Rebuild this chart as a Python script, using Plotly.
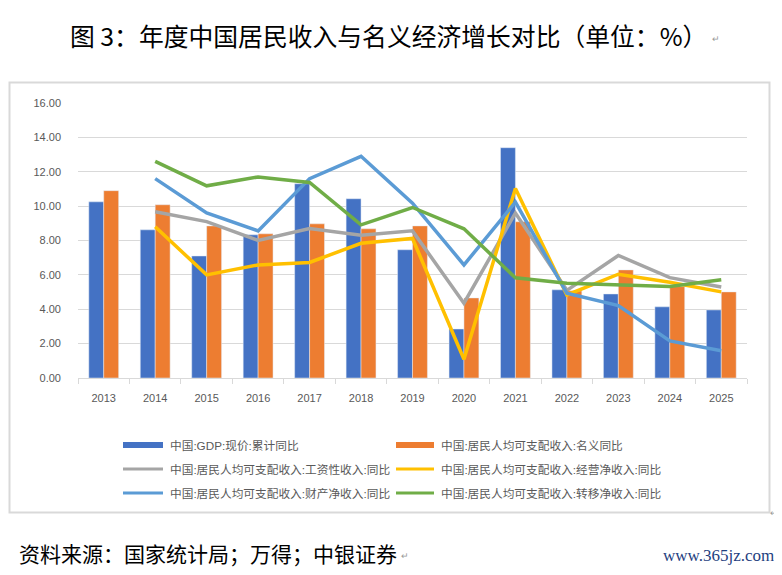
import plotly.graph_objects as go

years = ["2013", "2014", "2015", "2016", "2017", "2018", "2019",
         "2020", "2021", "2022", "2023", "2024", "2025"]
gdp = [10.25, 8.62, 7.10, 8.33, 11.30, 10.43, 7.46, 2.85, 13.40, 5.13, 4.89, 4.14, 3.96]
income_nominal = [10.90, 10.08, 8.85, 8.39, 8.97, 8.68, 8.85, 4.66, 9.09, 5.07, 6.29, 5.32, 5.01]
wage = [None, 9.67, 9.10, 8.00, 8.70, 8.30, 8.56, 4.35, 9.60, 5.10, 7.13, 5.84, 5.30]
business = [None, 8.80, 6.00, 6.58, 6.72, 7.84, 8.12, 1.09, 11.03, 4.83, 6.04, 5.57, 5.01]
property_inc = [None, 11.60, 9.60, 8.56, 11.60, 12.90, 10.17, 6.58, 10.23, 4.93, 4.21, 2.16, 1.59]
transfer = [None, 12.60, 11.18, 11.70, 11.38, 8.91, 9.92, 8.68, 5.83, 5.51, 5.44, 5.32, 5.71]

names = ["中国:GDP:现价:累计同比",
         "中国:居民人均可支配收入:名义同比",
         "中国:居民人均可支配收入:工资性收入:同比",
         "中国:居民人均可支配收入:经营净收入:同比",
         "中国:居民人均可支配收入:财产净收入:同比",
         "中国:居民人均可支配收入:转移净收入:同比"]
colors = ["#4472C4", "#ED7D31", "#A5A5A5", "#FFC000", "#5B9BD5", "#70AD47"]

W, H = 782, 575
OFF = 8  # page body margin offset
# plot area in page pixels
PL, PR, PT, PB = 78, 747, 103, 378
ML, MT = PL - OFF, PT - OFF
MR, MB = W - (PR - OFF), H - (PB - OFF)
PW, PH = PR - PL, PB - PT


def px(xp):
    return (xp - PL) / PW


def py(yp):
    return (PB - yp) / PH


fig = go.Figure()
fig.add_trace(go.Bar(x=years, y=gdp, name=names[0], marker_color=colors[0]))
fig.add_trace(go.Bar(x=years, y=income_nominal, name=names[1], marker_color=colors[1]))
for vals, nm, c in [(wage, names[2], colors[2]), (business, names[3], colors[3]),
                    (property_inc, names[4], colors[4]), (transfer, names[5], colors[5])]:
    fig.add_trace(go.Scatter(x=years, y=vals, name=nm, mode="lines",
                             line=dict(color=c, width=3.5)))

shapes = []
annotations = []
# outer frame
shapes.append(dict(type="rect", xref="paper", yref="paper",
                   x0=px(9.5), x1=px(769.5), y0=py(512.5), y1=py(82.5),
                   line=dict(color="#D9D9D9", width=2), layer="below"))

# manual legend
rows = [445, 469, 493]
cols = [(123, 163, 168), (396, 434, 439)]
for i, (nm, c) in enumerate(zip(names, colors)):
    r, cidx = divmod(i, 2)
    x0, x1, xt = cols[cidx]
    yy = rows[r]
    if i < 2:
        shapes.append(dict(type="rect", xref="paper", yref="paper",
                           x0=px(x0), x1=px(x1), y0=py(yy + 3), y1=py(yy - 3),
                           fillcolor=c, line=dict(width=0)))
    else:
        shapes.append(dict(type="line", xref="paper", yref="paper",
                           x0=px(x0), x1=px(x1), y0=py(yy), y1=py(yy),
                           line=dict(color=c, width=3)))
    annotations.append(dict(xref="paper", yref="paper", x=px(xt), y=py(yy),
                            xanchor="left", yanchor="middle", showarrow=False,
                            text=nm, font=dict(size=11.7, color="#595959")))

# title
annotations.append(dict(xref="paper", yref="paper", x=px(388), y=py(35),
                        xanchor="center", yanchor="middle", showarrow=False,
                        text="图 3：年度中国居民收入与名义经济增长对比（单位：%）",
                        font=dict(size=24.8, color="#000000", family="Noto Sans CJK SC")))
annotations.append(dict(xref="paper", yref="paper", x=px(716), y=py(39),
                        xanchor="center", yanchor="middle", showarrow=False,
                        text="↵", font=dict(size=9, color="#999999")))
# source
annotations.append(dict(xref="paper", yref="paper", x=px(17), y=py(553),
                        xanchor="left", yanchor="middle", showarrow=False,
                        text="资料来源：国家统计局；万得；中银证券",
                        font=dict(size=21, color="#000000", family="Noto Sans CJK SC")))
annotations.append(dict(xref="paper", yref="paper", x=px(405), y=py(556),
                        xanchor="center", yanchor="middle", showarrow=False,
                        text="↵", font=dict(size=9, color="#999999")))
annotations.append(dict(xref="paper", yref="paper", x=px(774), y=py(513),
                        xanchor="center", yanchor="middle", showarrow=False,
                        text="↵", font=dict(size=9, color="#999999")))
# watermark
annotations.append(dict(xref="paper", yref="paper", x=px(776), y=py(555),
                        xanchor="right", yanchor="middle", showarrow=False,
                        text="www.365jz.com",
                        font=dict(size=17, color="#1F3F7F", family="Liberation Serif")))

fig.update_layout(
    width=W, height=H,
    margin=dict(l=ML, r=MR, t=MT, b=MB, autoexpand=False),
    paper_bgcolor="white", plot_bgcolor="white",
    barmode="group", bargap=0.42, bargroupgap=0,
    showlegend=False,
    font=dict(family="Liberation Sans, Noto Sans CJK SC", size=11, color="#595959"),
    shapes=shapes, annotations=annotations,
    xaxis=dict(type="category", showgrid=False, showline=True, linecolor="#D9D9D9",
               linewidth=1, ticks="outside", tickson="boundaries", ticklen=5,
               tickcolor="#D9D9D9", tickfont=dict(size=11, color="#595959"),
               ticklabelstandoff=10, zeroline=False),
    yaxis=dict(range=[0, 16], dtick=2, tickformat=".2f", showgrid=True,
               gridcolor="#D9D9D9", gridwidth=1, showline=False, zeroline=False,
               tickfont=dict(size=11, color="#595959"), ticks="",
               ticklabelstandoff=16),
)

fig.write_html("out.html")
